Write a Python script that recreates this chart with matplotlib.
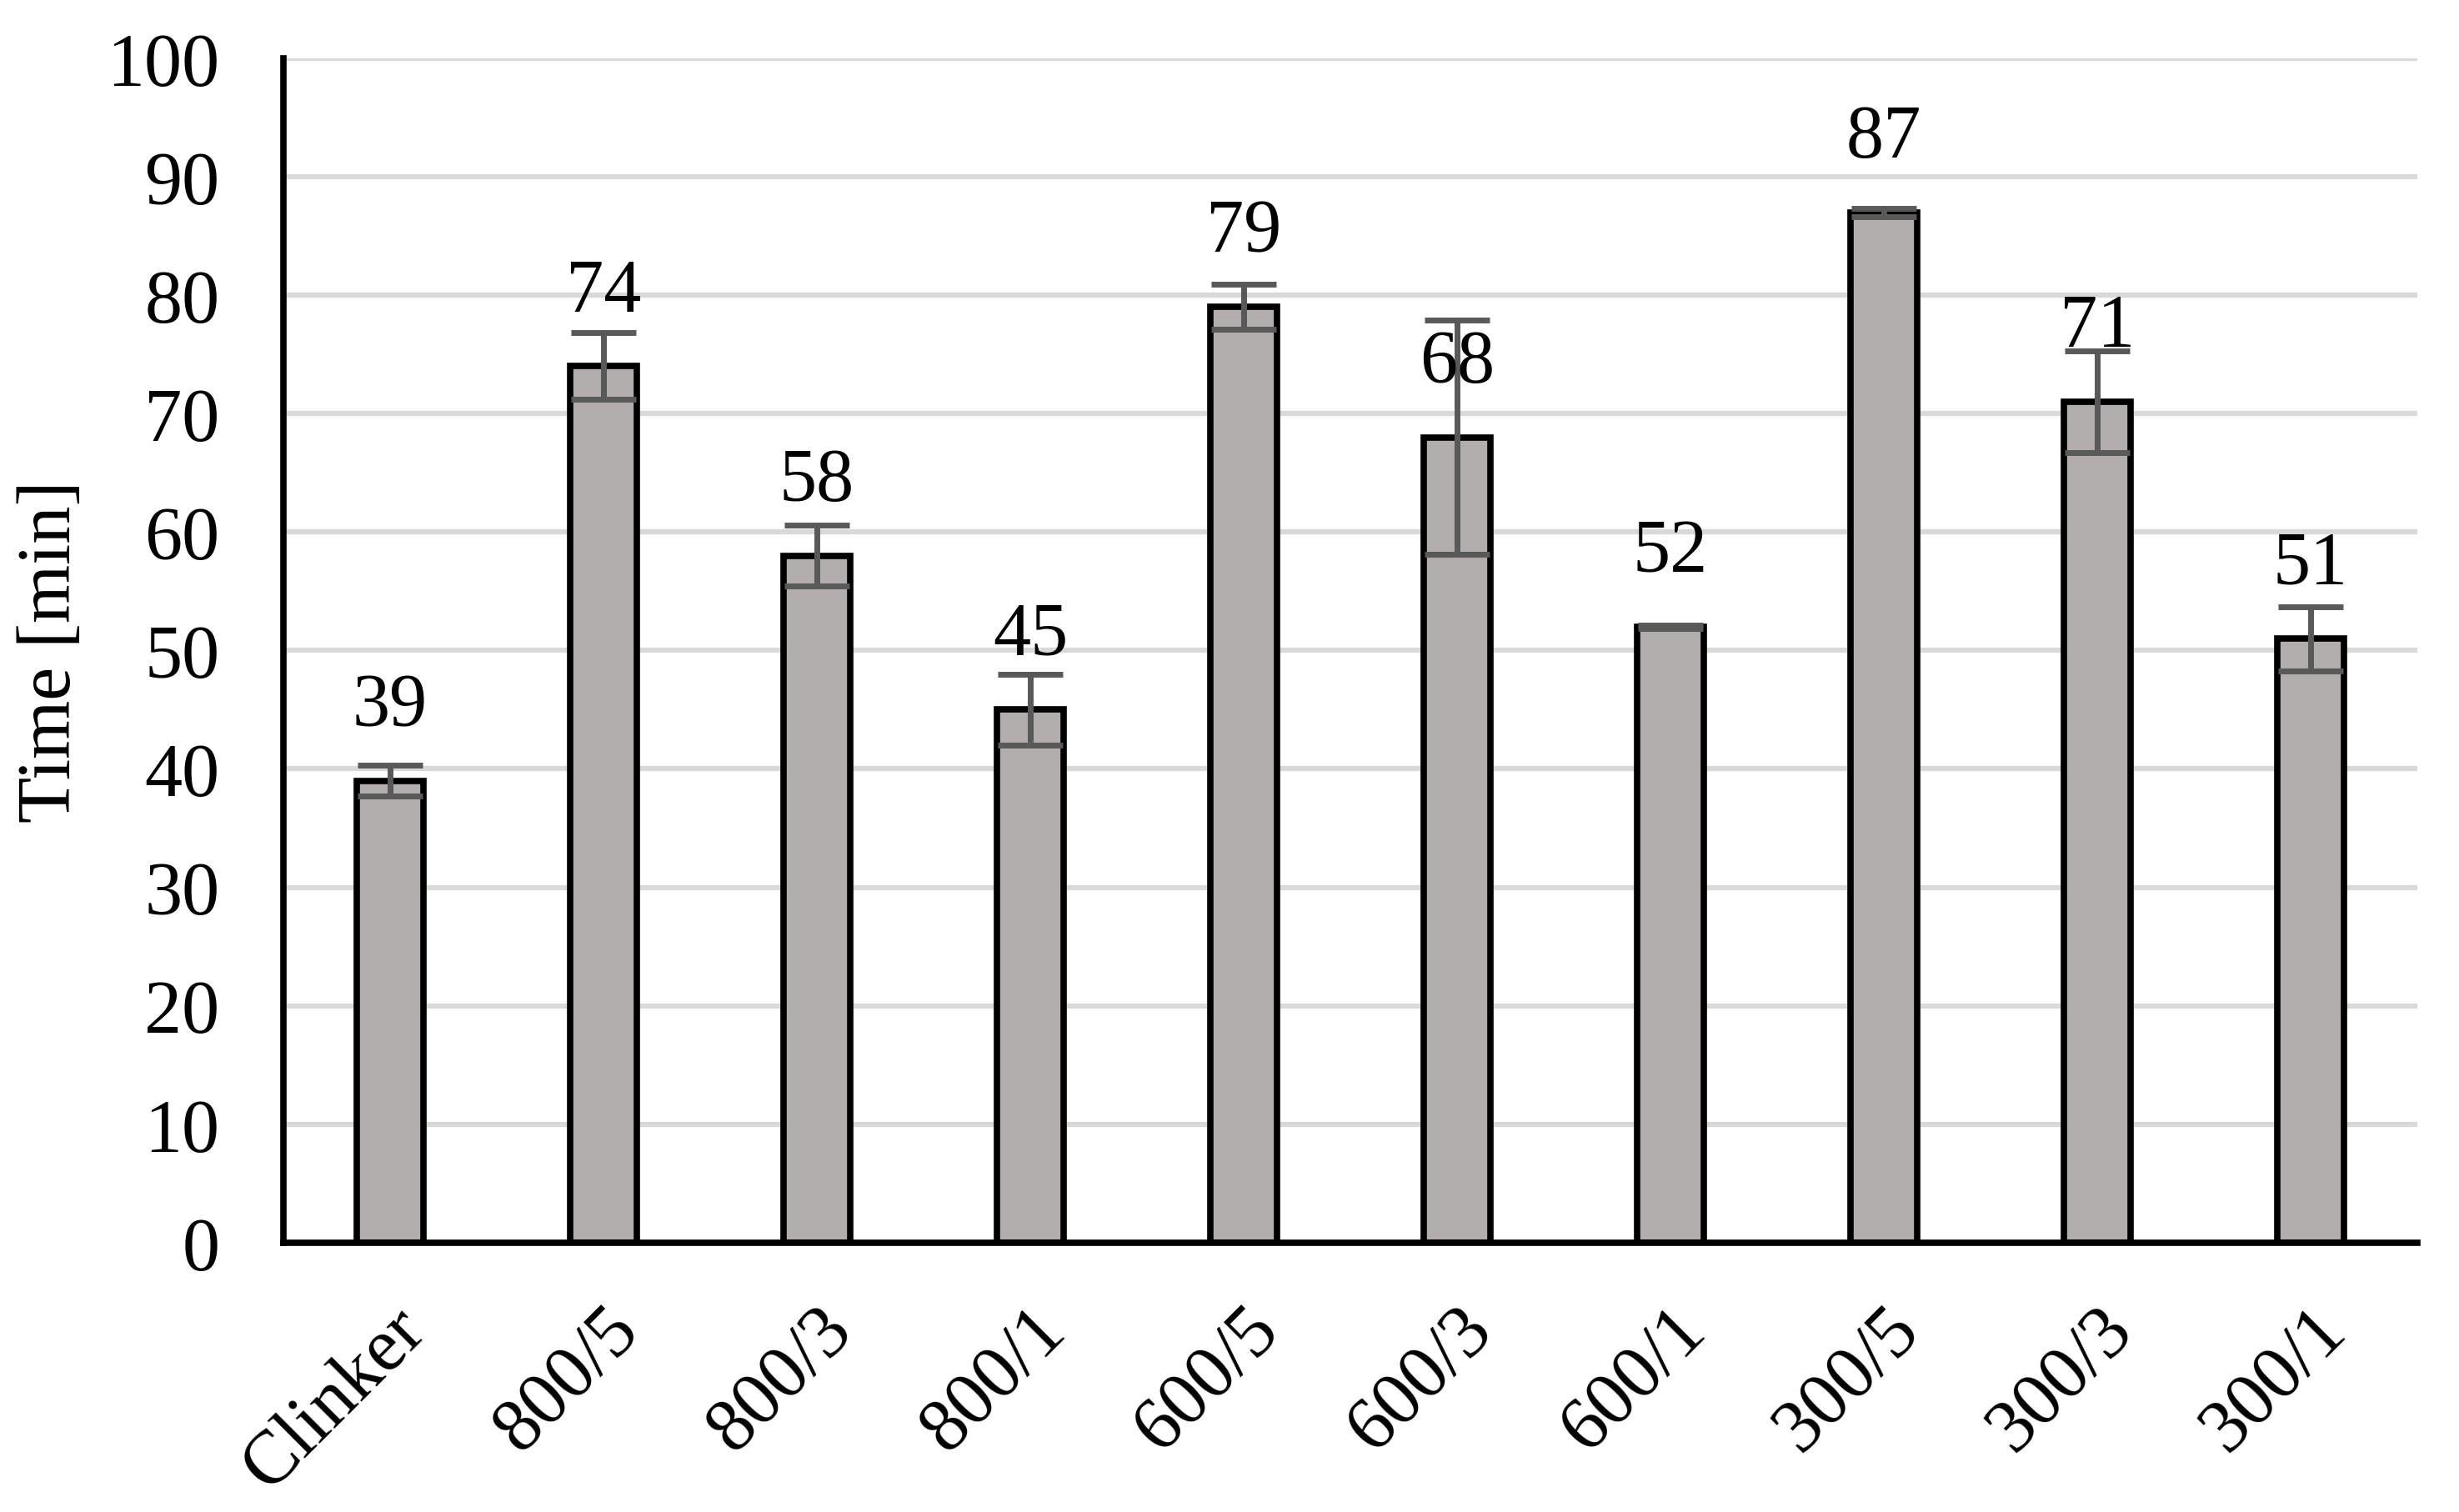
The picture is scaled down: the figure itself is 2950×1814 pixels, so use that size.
import numpy as np
import matplotlib.pyplot as plt

plt.rcParams['font.family'] = ['Liberation Serif', 'DejaVu Serif']

# sample names, mean setting time and error bar half-widths
samples = ['Clinker', '800/5', '800/3', '800/1', '600/5', '600/3', '600/1', '300/5', '300/3', '300/1']
time_min = [39, 74, 58, 45, 79, 68, 52, 87, 71, 51]
err = [1.3, 2.8, 2.55, 3.0, 1.9, 9.9, 0.15, 0.35, 4.3, 2.7]

fig, ax = plt.subplots(figsize=(29.5, 18.15), dpi=100)
fig.subplots_adjust(left=0.1153, right=0.983, top=0.961, bottom=0.178)

x = np.arange(len(samples))
ax.bar(x, time_min, width=0.31, color='#B0ADAC', edgecolor='black', linewidth=5.5, zorder=3)
ax.errorbar(x, time_min, yerr=err, fmt='none', ecolor='#595959', elinewidth=5,
            capsize=28, capthick=5, zorder=4)

# value labels sit a fixed distance above the bar top
for xi, v in zip(x, time_min):
    ax.annotate(str(v), (xi, v), xytext=(0, 64), textcoords='offset points',
                ha='center', va='center', fontsize=65, zorder=5)

ax.set_xlim(-0.5, len(samples) - 0.5)
ax.set_ylim(0, 100)
ax.set_yticks(np.arange(0, 101, 10))
ax.set_xticks(x)
ax.set_xticklabels(samples, rotation=45, ha='right', rotation_mode='anchor')
ax.tick_params(axis='both', length=0, labelsize=65)
ax.tick_params(axis='y', pad=55)
ax.tick_params(axis='x', pad=45)
ax.set_ylabel('Time [min]', fontsize=65, labelpad=18)

ax.grid(axis='y', color='#D9D9D9', linewidth=4.5, zorder=0)
ax.set_axisbelow(True)
for s in ['top', 'right']:
    ax.spines[s].set_visible(False)
for s in ['left', 'bottom']:
    ax.spines[s].set_linewidth(5.5)
    ax.spines[s].set_zorder(6)

plt.savefig('out.png', dpi=100)
